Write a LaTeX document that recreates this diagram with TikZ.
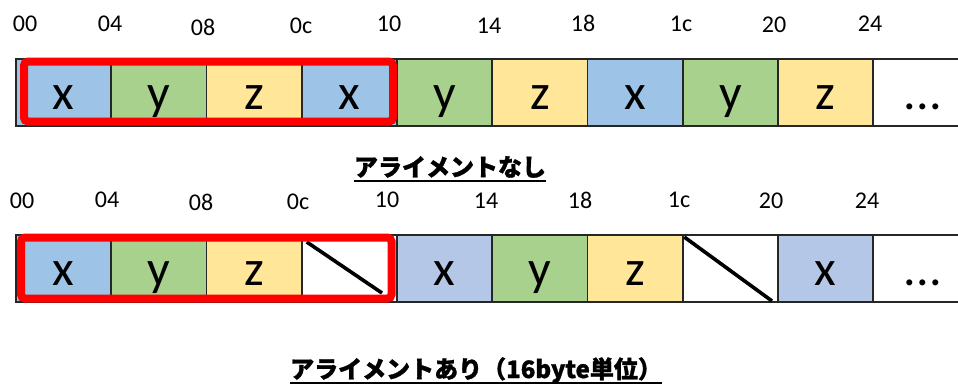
\documentclass[tikz,border=0pt]{standalone}
\usepackage{fontspec}
\setmainfont{Carlito}
\newfontfamily\jp{Noto Sans CJK JP}[BoldFeatures={FakeBold=1.2}]
\definecolor{cblue}{HTML}{9DC3E6}
\definecolor{cgreen}{HTML}{A9D18E}
\definecolor{cyellow}{HTML}{FFE699}
\definecolor{clav}{HTML}{B4C7E7}
\definecolor{cline}{HTML}{262626}
\definecolor{cred}{HTML}{FF0000}
\begin{document}
\begin{tikzpicture}[x=1pt,y=-1pt,
  cell/.style={draw=cline, line width=1.8pt, minimum width=95.25pt, minimum height=67pt,
    inner sep=0pt, outer sep=0pt, anchor=north west, text height=33pt, text depth=0pt,
    font=\fontsize{50}{60}\selectfont},
  lastcell/.style={cell, minimum width=120pt},
  addr/.style={font=\fontsize{24}{28}\selectfont, anchor=base, inner sep=0pt},
  ttl/.style={font=\jp\bfseries\fontsize{24}{28}\selectfont, anchor=base, inner sep=0pt},
  uline/.style={line width=2.4pt, black},
  slash/.style={line width=3.6pt, black},
  redbox/.style={draw=cred, line width=8pt, rounded corners=4pt}
]
\useasboundingbox (0,0) rectangle (958,389);
% ---------- top row ----------
\node[cell, fill=cblue]   (a0) at (16,59) {x};
\node[cell, fill=cgreen]  (a1) at (111.25,59) {y};
\node[cell, fill=cyellow] (a2) at (206.5,59) {z};
\node[cell, fill=cblue]   (a3) at (301.75,59) {x};
\node[cell, fill=cgreen]  (a4) at (397,59) {y};
\node[cell, fill=cyellow] (a5) at (492.25,59) {z};
\node[cell, fill=cblue]   (a6) at (587.5,59) {x};
\node[cell, fill=cgreen]  (a7) at (682.75,59) {y};
\node[cell, fill=cyellow] (a8) at (778,59) {z};
\node[lastcell, fill=white] (a9) at (873.25,59) {\hspace*{-21pt}...};
\draw[redbox] (24,61.5) rectangle (393,121.5);
% top addresses
\node[addr] (ta0) at (25,31.5) {00};
\node[addr] (ta1) at (110,31) {04};
\node[addr] (ta2) at (203,35) {08};
\node[addr] (ta3) at (301,33) {0c};
\node[addr] (ta4) at (389,31.5) {10};
\node[addr] (ta5) at (489,33) {14};
\node[addr] (ta6) at (583,31.5) {18};
\node[addr] (ta7) at (681,31) {1c};
\node[addr] (ta8) at (774,32.5) {20};
\node[addr] (ta9) at (870,31.5) {24};
% title 1
\node[ttl] (t1) at (450,176) {アライメントなし};
\draw[uline] ([yshift=-5pt]t1.base west) -- ([yshift=-5pt]t1.base east);
% bottom addresses
\node[addr] (ba0) at (22,208) {00};
\node[addr] (ba1) at (107,207) {04};
\node[addr] (ba2) at (201,210) {08};
\node[addr] (ba3) at (298,209) {0c};
\node[addr] (ba4) at (387,207) {10};
\node[addr] (ba5) at (486,208) {14};
\node[addr] (ba6) at (580,208) {18};
\node[addr] (ba7) at (679,207) {1c};
\node[addr] (ba8) at (771,208) {20};
\node[addr] (ba9) at (867,208) {24};
% ---------- bottom row ----------
\node[cell, fill=cblue]   (b0) at (16,235) {x};
\node[cell, fill=cgreen]  (b1) at (111.25,235) {y};
\node[cell, fill=cyellow] (b2) at (206.5,235) {z};
\node[cell, fill=white]   (b3) at (301.75,235) {};
\node[cell, fill=clav]    (b4) at (397,235) {x};
\node[cell, fill=cgreen]  (b5) at (492.25,235) {y};
\node[cell, fill=cyellow] (b6) at (587.5,235) {z};
\node[cell, fill=white]   (b7) at (682.75,235) {};
\node[cell, fill=clav]    (b8) at (778,235) {x};
\node[lastcell, fill=white] (b9) at (873.25,235) {\hspace*{-21pt}...};
\draw[slash] ([shift={(5,7)}]b3.north west) -- ([shift={(-15,-9)}]b3.south east);
\draw[slash] ([shift={(1.5,2)}]b7.north west) -- ([shift={(-6,-1)}]b7.south east);
\draw[redbox] (21,237.5) rectangle (391.5,298.5);
% title 2
\node[ttl] (t2) at (476,378) {アライメントあり（16byte単位）};
\draw[uline] ([yshift=-5pt]t2.base west) -- ([yshift=-5pt]t2.base east);
\end{tikzpicture}
\end{document}
